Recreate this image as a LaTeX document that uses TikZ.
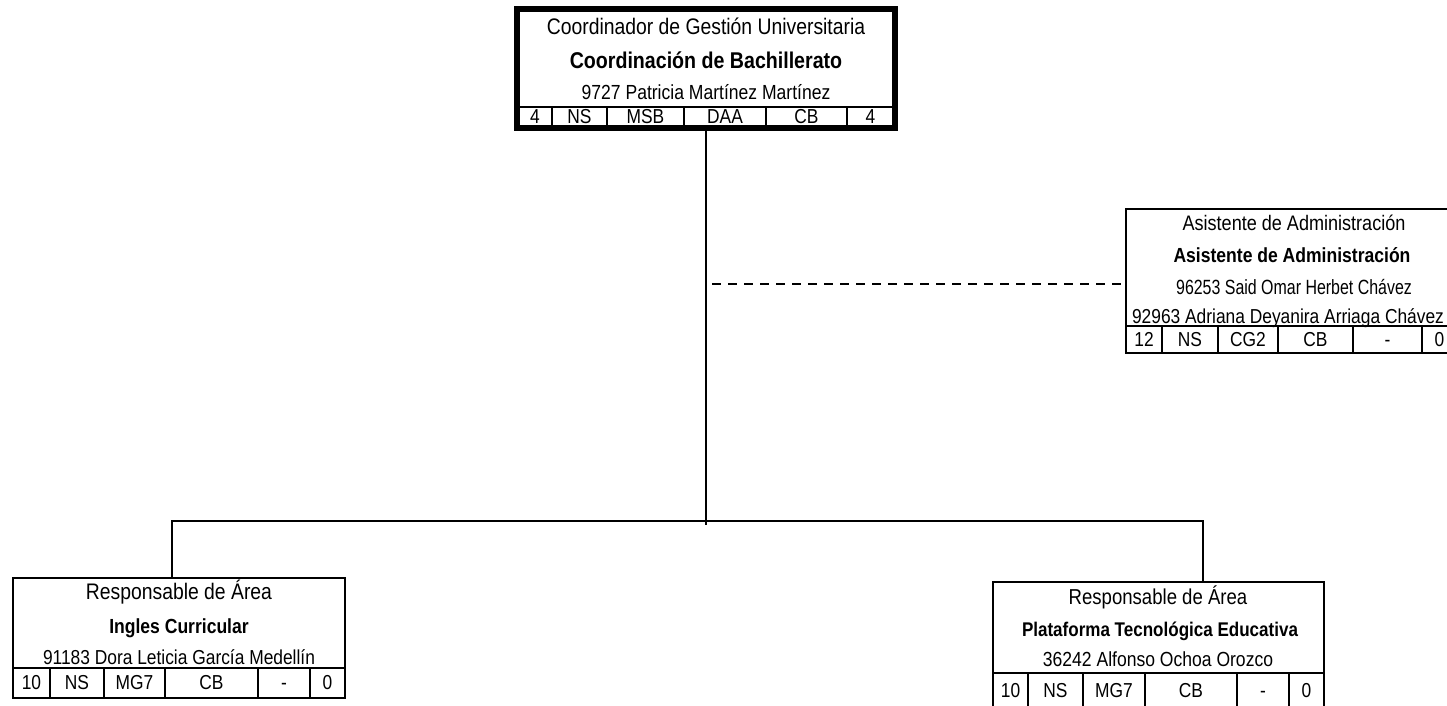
\documentclass[tikz,border=0pt]{standalone}
\usepackage{graphicx}
\usepackage{fontspec}
\setmainfont[FakeStretch=0.86]{Liberation Sans}
\usetikzlibrary{fit}

\begin{document}
\begin{tikzpicture}[x=0.5pt,y=-0.5pt,
                    chief/.style={draw,line width=2pt,inner sep=0pt},
                    unit/.style={draw,line width=1pt,inner sep=0pt},
                    sz/.style={font=\fontsize{#1}{#1}\selectfont},
                    cell/.style={draw,line width=1pt,inner sep=0pt,sz=10.1,text height=0.69em,text depth=0pt},
                    txt/.style={inner sep=0pt,sz=#1,text height=0.69em,text depth=0pt},
                    link/.style={line width=1pt},
                    staff/.style={line width=1pt,dash pattern=on 4.5pt off 3.5pt}]

  \clip (0,0) rectangle (1447,706);
  \useasboundingbox (0,0) rectangle (1447,706);

  % coordinacion
  \node[chief] (coord) [fit={(518,10)(894,127)}] {};
  \node[txt=11.25] (coordrole) at (706,28) {Coordinador de Gestión Universitaria};
  \node[txt=11.4] (coordunit) at (706,62) {\bfseries Coordinación de Bachillerato};
  \node[txt=10.2] (coordname) at (706,93) {9727 Patricia Martínez Martínez};
  \begin{scope}[every node/.append style={minimum height=10pt}]
    \node[cell,minimum width=17pt] (c1) at (535,117) {4};
    \node[cell,minimum width=27.5pt] (c2) at (579.5,117) {NS};
    \node[cell,minimum width=38.5pt] (c3) at (645.5,117) {MSB};
    \node[cell,minimum width=41pt] (c4) at (725,117) {DAA};
    \node[cell,minimum width=40.5pt] (c5) at (806.5,117) {CB};
    \node[cell,minimum width=23.5pt] (c6) at (870.5,117) {4};
  \end{scope}
  \draw[line width=2pt] (coord.south west) rectangle (coord.north east);

  % asistente
  \node[unit] (asist) [fit={(1126,209)(1457,353)}] {};
  \node[txt=10.5] (asistrole) at (1294,224) {Asistente de Administración};
  \node[txt=10.2] (asistunit) at (1292,256) {\bfseries Asistente de Administración};
  \node[txt=10.3] (asistname1) at (1294,288) {\scalebox{0.9}[1]{96253 Said Omar Herbet Chávez}};
  \node[txt=10.1] (asistname2) at (1288,317) {92963 Adriana Deyanira Arriaga Chávez};
  \begin{scope}[every node/.append style={minimum height=13.5pt}]
    \node[cell,minimum width=18pt] (a1) at (1144,339.5) {12};
    \node[cell,minimum width=28pt] (a2) at (1190,339.5) {NS};
    \node[cell,minimum width=30pt] (a3) at (1248,339.5) {CG2};
    \node[cell,minimum width=37.5pt] (a4) at (1315.5,339.5) {CB};
    \node[cell,minimum width=34.5pt] (a5) at (1387.5,339.5) {-};
    \node[cell,minimum width=17.5pt] (a6) at (1439.5,339.5) {0};
  \end{scope}

  % ingles
  \node[unit] (ingles) [fit={(13,578)(345,698)}] {};
  \node[txt=11.25] (inglesrole) at (179,593) {Responsable de Área};
  \node[txt=10.2] (inglesunit) at (179,627) {\bfseries Ingles Curricular};
  \node[txt=10.1] (inglesname) at (179,658) {91183 Dora Leticia García Medellín};
  \begin{scope}[every node/.append style={minimum height=15pt}]
    \node[cell,minimum width=18.5pt] (i1) at (31.5,683) {10};
    \node[cell,minimum width=27pt] (i2) at (77,683) {NS};
    \node[cell,minimum width=30.5pt] (i3) at (134.5,683) {MG7};
    \node[cell,minimum width=46.5pt] (i4) at (211.5,683) {CB};
    \node[cell,minimum width=26pt] (i5) at (284,683) {-};
    \node[cell,minimum width=17.5pt] (i6) at (327.5,683) {0};
  \end{scope}

  % plataforma
  \node[unit] (plataforma) [fit={(993,582)(1324,708)}] {};
  \node[txt=10.8] (platrole) at (1158,598) {Responsable de Área};
  \node[txt=9.9] (platunit) at (1160,630) {\bfseries Plataforma Tecnológica Educativa};
  \node[txt=10.2] (platname) at (1158,660) {36242 Alfonso Ochoa Orozco};
  \begin{scope}[every node/.append style={minimum height=17.5pt}]
    \node[cell,minimum width=17.5pt] (p1) at (1010.5,690.5) {10};
    \node[cell,minimum width=27.5pt] (p2) at (1055.5,690.5) {NS};
    \node[cell,minimum width=31pt] (p3) at (1114,690.5) {MG7};
    \node[cell,minimum width=46pt] (p4) at (1191,690.5) {CB};
    \node[cell,minimum width=26pt] (p5) at (1263,690.5) {-};
    \node[cell,minimum width=17.5pt] (p6) at (1306.5,690.5) {0};
  \end{scope}

  % connectors
  \coordinate (busL) at (172,521);
  \coordinate (busR) at (1203,521);
  \coordinate (tap) at (712,284);
  \draw[link] (coord.south) -- (coord.south |- busL) -- ++(0,4);
  \draw[link] (busL |- ingles.north) -- (busL) -- (busR) -- (busR |- plataforma.north);
  \draw[staff] (tap) -- (tap -| asist.west);
\end{tikzpicture}
\end{document}
